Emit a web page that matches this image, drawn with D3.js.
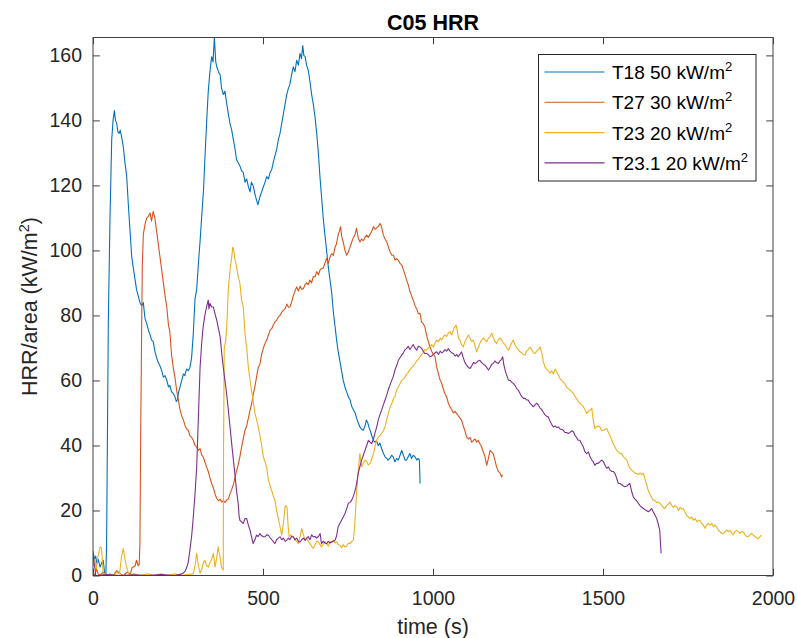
<html>
<head>
<meta charset="utf-8">
<title>C05 HRR</title>
<script src="https://d3js.org/d3.v7.min.js"></script>
<style>
body { margin: 0; background: #fff; }
svg { font-family: "Liberation Sans", Arial, Helvetica, sans-serif; }
.axis text { fill: #262626; font-size: 19.5px; }
.axis line { stroke: #404040; }
</style>
</head>
<body>
<svg width="797" height="638"></svg>
<script>

// series: [time (s), HRR/area (kW/m2)]
var t18 = [[0,7.5],[4,5],[8,6],[11,3.8],[15,5],[21,2.6],[26,4],[30,4.7],[34,1],[38,0.5],[40,10],[43,50],[45,77.6],[50,110],[55,134],[59,140],[63,143],[66,140],[70,139],[73,136.5],[77,136],[80,137],[84,135],[89,132],[94,127],[99,123],[104,114],[109,106],[114,98],[118,95],[123,91.5],[128,88],[133,86],[138,84],[143,83],[148,84],[153,79],[158,77.5],[163,75.5],[168,74],[172,72.5],[177,72],[182,69],[187,67],[192,65.5],[197,64.5],[202,63],[207,61],[212,61.5],[217,60],[222,58],[226,58.5],[231,56.5],[236,56],[241,55],[245,53.5],[248,54],[252,56.5],[256,58],[261,60],[266,62],[270,61.5],[275,63.5],[280,63],[285,64],[290,67],[295,74.5],[300,85],[305,88],[310,96],[315,103],[320,111],[325,118.5],[329,128],[334,139],[339,149],[344,155],[349,159.6],[353,158],[357,165.5],[361,158],[364,156.5],[369,155],[374,154],[378,150],[383,148],[388,149],[392,146],[398,142],[403,139],[408,137],[413,134],[418,131],[422,128],[427,127],[432,126],[437,124.5],[442,124],[447,121],[452,122],[457,119.6],[462,118],[466,121],[471,120],[476,117.5],[481,115.5],[485,114],[491,116.5],[496,118],[501,119.6],[506,121],[511,122.7],[516,122],[521,124],[526,125],[530,127],[535,129],[540,131],[545,134],[550,136],[555,139],[560,142],[565,145],[570,148],[575,150],[579,151],[584,154],[589,156.5],[594,155],[599,158.5],[604,157],[609,160.6],[613,159],[617,163],[620,160],[624,159.6],[628,157],[633,155.5],[638,152],[643,148],[648,145],[653,141],[658,136],[662,131],[668,122],[673,115.5],[677,110],[682,105],[687,100],[692,95],[697,91],[702,87],[707,81],[712,76.5],[717,72],[721,69],[726,66],[731,63],[736,60],[741,58],[746,56.5],[751,55],[756,54],[761,52],[766,51],[771,50],[775,48.5],[780,47],[785,45.7],[790,45],[795,44.7],[800,46],[804,47.8],[808,47],[812,45.5],[815,44.7],[820,43],[825,41.5],[829,41],[834,41.5],[839,40],[844,40.7],[849,39],[854,37.6],[859,36.5],[864,36],[868,35.5],[873,36],[878,37],[883,36.5],[888,35],[893,36],[898,35.5],[903,37],[908,38.5],[913,37],[918,35.5],[922,35.5],[927,36.5],[932,37.5],[937,36],[942,37],[947,36.5],[952,35.5],[956,36],[960,35.5],[962,28.3]];

var t27 = [[0,1],[5,0],[10,2],[15,0.5],[20,0],[30,1],[40,0],[50,0.5],[60,0],[70,1.5],[80,0.5],[90,0],[100,1],[110,0.5],[115,2.5],[119,2.6],[124,3],[128,4.7],[133,3],[136,3.5],[138,10],[140,40],[143,75],[145,95],[148,105],[153,108],[158,110],[163,110.5],[168,111.5],[172,109],[177,112],[182,110],[187,106],[192,102],[197,98],[202,94],[207,90],[212,86],[217,82.6],[222,77],[226,75],[231,68],[236,64],[241,61],[246,57],[251,54],[256,51],[261,49],[266,47.8],[271,46],[276,45],[280,44.7],[285,43],[290,42.5],[295,41.6],[300,40],[305,39.5],[310,38.5],[315,39],[320,37],[324,36.5],[329,35],[334,33.4],[339,32],[344,30],[349,28.3],[354,27],[359,25],[364,23.7],[369,23],[374,23.5],[378,22.6],[383,23],[388,22.5],[393,23.2],[398,23.5],[403,25.2],[408,26.5],[413,28],[418,30.3],[422,32],[427,34],[432,36.5],[437,39.5],[442,42],[447,44.7],[452,46],[457,48.5],[462,50.9],[467,53],[471,55.5],[476,58],[481,61],[486,64],[491,65],[496,68],[501,70],[506,71.4],[511,72.5],[516,74],[521,75.5],[526,76],[530,77],[535,78],[540,78.5],[545,79.5],[550,80],[555,81],[560,81.6],[565,82],[570,83.5],[575,82.5],[579,82.6],[584,84],[589,86],[594,87.5],[599,88.8],[604,87.5],[609,89],[614,88],[619,88.3],[624,89.5],[628,90],[633,89.5],[638,90.9],[643,90],[648,92],[653,91.9],[658,93.5],[663,92.5],[668,94],[672,94.5],[677,94.5],[682,96],[687,97.5],[692,96],[697,98],[702,99],[707,98.5],[712,101],[716,102],[721,104.7],[725,106],[728,107.3],[732,104],[736,102.6],[741,100],[746,98.5],[751,99.5],[756,101],[761,102.6],[766,104],[771,105],[775,106.8],[780,104],[785,102.6],[790,103.5],[795,103],[800,104],[805,104.7],[810,104],[815,105],[820,106],[825,107.3],[830,106.5],[835,107],[840,107.5],[844,108.3],[848,107.5],[854,104.7],[859,103.5],[864,102.6],[869,101],[874,99.5],[879,98.5],[884,98.5],[888,97],[893,97.5],[898,97],[903,96],[908,95.5],[913,94],[918,92.4],[922,91],[927,89.5],[932,87.5],[937,86],[942,84.7],[947,83],[952,82],[957,80.5],[962,80.6],[966,78],[971,77.5],[976,76.5],[981,74],[986,72],[991,70.3],[996,69],[1001,68],[1006,67.3],[1011,64],[1016,62],[1021,60.1],[1026,59],[1030,57.5],[1035,56],[1040,55],[1045,53],[1050,51.9],[1055,51],[1060,50],[1065,50.5],[1070,49.8],[1075,49],[1079,48.5],[1084,47.8],[1089,46],[1094,44.5],[1099,42.6],[1104,42],[1109,42.5],[1114,41],[1119,41.6],[1124,42],[1128,41],[1133,41.6],[1138,40.5],[1143,39.6],[1148,38],[1153,36.5],[1158,33.9],[1163,36],[1168,38.5],[1172,38],[1177,37.5],[1182,35.5],[1187,33.4],[1192,32],[1197,31.5],[1202,30.3],[1204,31]];

var t23 = [[0,3],[5,5],[10,2],[15,6],[21,8.8],[25,8.5],[28,4],[30,0],[35,0.7],[40,0],[50,0.5],[60,0],[70,1],[78,0.5],[84,6],[89,8.3],[94,5],[99,2.6],[104,0.7],[109,0],[120,0.5],[140,0],[160,0.5],[180,0],[200,0.5],[220,0],[240,0.5],[260,0],[280,0.3],[295,0.5],[300,3],[305,6.8],[310,3],[315,0.7],[320,2],[325,4],[329,4.7],[334,3],[339,2.6],[344,4],[349,5],[354,6.8],[359,2.6],[364,5.5],[368,8.8],[373,6],[378,2.6],[383,1.6],[384,40],[386,70],[390,72],[393,75.5],[398,88],[403,94],[408,98],[411,101],[413,100.5],[418,97],[422,95],[427,92],[432,90],[437,84.7],[442,82.6],[447,74.5],[452,70],[457,64],[462,60],[466,57],[471,54],[476,50],[481,48],[486,45.7],[491,43],[496,40],[501,36.5],[506,35],[511,33],[516,29.3],[521,27.5],[526,26],[530,24.5],[535,23.2],[540,20],[545,17.5],[550,15],[555,12.4],[560,16],[565,21.1],[568,21.5],[571,20.6],[574,15],[577,11.9],[582,12.5],[589,11.9],[594,11],[599,10.5],[604,9.8],[609,12],[614,14.5],[619,12.5],[624,10.9],[628,11.5],[633,10.5],[638,9.8],[643,9],[648,8.3],[653,9.5],[658,10.5],[663,10.3],[668,9.5],[672,8.8],[677,9.5],[682,10.5],[687,9.8],[692,9],[697,10.5],[702,10.3],[707,11],[712,10],[717,10.3],[721,9.5],[726,9.3],[731,8.5],[736,9.5],[741,8.8],[746,9],[751,10],[756,9.8],[761,10.5],[766,10.9],[770,16],[775,25.2],[780,32],[785,37.5],[790,33.4],[795,34.5],[800,35.5],[805,35],[810,34],[815,34.5],[820,36],[825,37.5],[829,39.5],[834,41.6],[839,42.5],[844,43],[849,43.7],[854,44.5],[859,45.7],[864,48],[869,50],[874,51.9],[879,53],[884,54.5],[888,55],[893,57],[898,58],[903,59],[908,60],[913,60.5],[918,61],[922,62],[927,62.5],[932,63.2],[937,64],[942,64.5],[947,65.2],[952,66],[957,66.5],[962,67.3],[966,68],[971,68.5],[976,69.5],[981,69.3],[986,70],[991,70.3],[996,71],[1001,70.3],[1006,71.5],[1011,72.4],[1016,71.9],[1021,73],[1026,72.5],[1030,73.4],[1035,74],[1040,73.5],[1045,74.5],[1050,75],[1055,74],[1060,75.5],[1064,76.5],[1068,77],[1072,75],[1075,73],[1079,72.4],[1084,71],[1089,70.3],[1094,72],[1099,73],[1104,74],[1109,73],[1114,72],[1119,72.4],[1124,70.5],[1128,68.8],[1133,70],[1138,71.5],[1143,72.4],[1148,73],[1153,72.5],[1158,71.9],[1163,73],[1168,73.5],[1173,74.5],[1178,73],[1182,72],[1187,71.4],[1192,72.5],[1197,73],[1202,72.4],[1207,71.5],[1212,71],[1217,70],[1222,69.3],[1227,70.5],[1231,71.5],[1236,72.4],[1241,71],[1246,70],[1251,69.5],[1256,68.8],[1261,68.5],[1266,68],[1271,67.8],[1275,69],[1280,69.5],[1285,70.3],[1290,69.5],[1295,68.5],[1300,68.3],[1305,69],[1310,69.5],[1315,70.3],[1320,68.5],[1324,66],[1329,64.2],[1334,63.5],[1339,63],[1344,62.2],[1349,63],[1354,62],[1359,63.5],[1364,62.7],[1369,61.5],[1374,60.5],[1378,60.1],[1383,59.5],[1388,59],[1393,58],[1398,57.5],[1403,57],[1408,56.5],[1413,56],[1418,55],[1422,54.5],[1427,53.5],[1432,53],[1437,52.5],[1442,52],[1447,51],[1452,49.8],[1457,50.5],[1462,50.9],[1467,51.4],[1471,48],[1476,45.2],[1481,45.7],[1486,46],[1491,45.7],[1496,44.5],[1501,44.7],[1506,45],[1511,45.2],[1516,44],[1521,43],[1526,41.6],[1530,40.5],[1535,39.5],[1540,38.5],[1545,38],[1550,37.5],[1555,37.5],[1560,36.5],[1565,36],[1570,35.5],[1575,34],[1579,33],[1584,32.4],[1589,32],[1594,31.5],[1599,31.4],[1604,31],[1609,31.5],[1614,31],[1619,31.4],[1624,29.5],[1628,28],[1633,26.2],[1638,25],[1643,24],[1648,23.2],[1653,23],[1658,22.5],[1663,22.5],[1668,22.2],[1673,21.5],[1677,21],[1682,20.6],[1687,21.5],[1692,22],[1697,22.6],[1702,21.5],[1707,21],[1712,21.5],[1717,21.1],[1722,20],[1727,21],[1731,20.5],[1736,20.6],[1741,19.5],[1746,18.5],[1751,18],[1756,17.5],[1761,18],[1766,17],[1771,17.5],[1776,16.5],[1780,17],[1785,17],[1790,16],[1795,15.5],[1800,14.5],[1805,15.5],[1810,16],[1815,15.5],[1820,16],[1825,15],[1829,15.5],[1834,15],[1839,14],[1844,13.5],[1849,13],[1854,12.9],[1859,13.5],[1864,14],[1869,13.5],[1874,13.9],[1879,13],[1883,12.5],[1888,13.5],[1893,13.9],[1898,13.5],[1903,13],[1908,13.5],[1913,13.4],[1918,12.5],[1922,12],[1927,11.9],[1932,12.5],[1937,13],[1942,12.4],[1947,12],[1952,11.5],[1957,11.4],[1962,12],[1966,12.4]];

var t231 = [[0,6.5],[3,4],[6,2],[8,0],[15,0],[40,0.3],[80,0],[120,0.2],[160,0],[200,0.3],[240,0],[262,0.5],[268,1],[272,1.5],[276,2.6],[280,4],[285,7.8],[290,12],[295,18],[300,25],[305,33.4],[310,48.8],[315,64.2],[320,72],[324,76.5],[329,80],[334,82.6],[337,84],[339,84.7],[341,82],[344,83.7],[349,82.6],[354,82.6],[359,80.5],[364,78.5],[369,76],[374,73.4],[378,69],[383,64.2],[388,60],[393,56],[398,51],[403,45.7],[408,40.5],[413,35.5],[418,30.5],[422,26.2],[427,22.2],[430,18],[432,17],[437,16.5],[442,16],[447,17.5],[452,17.5],[457,15.5],[462,13.9],[466,12],[471,9.8],[476,11],[481,12.4],[486,12],[491,12.9],[496,12.2],[501,11.9],[506,11.9],[511,12.5],[516,12.4],[521,11.6],[526,11],[530,10.5],[535,9.8],[540,11],[545,11.5],[550,11.9],[555,11],[560,11.5],[565,10.5],[570,10.9],[575,11.5],[579,11],[584,12],[589,11.9],[594,11],[599,11.5],[604,10.5],[609,10.3],[614,11],[619,11.5],[624,10.8],[628,11.4],[633,12],[638,11],[643,12.5],[648,11.9],[653,12],[658,11.5],[663,12],[668,12.9],[672,9.8],[677,10.5],[682,10],[687,9.8],[692,10.5],[697,10],[702,10.3],[707,10.5],[712,10.9],[716,12],[721,15],[726,16],[731,17],[736,18],[741,19],[746,20.5],[751,22.2],[756,22.5],[761,23.2],[766,24.5],[771,26.2],[775,28],[780,31.4],[785,33.5],[790,35.5],[795,37],[800,38.5],[805,40],[810,41.6],[815,41],[820,40.6],[825,42],[829,43.7],[834,45.5],[839,47.8],[844,49.5],[849,50.9],[854,52.5],[859,54],[864,55.5],[868,57],[873,58.5],[879,60.1],[884,61.5],[888,63.2],[893,64.5],[898,66.2],[903,67],[908,67.8],[913,68.5],[918,69.5],[922,69.8],[927,70.5],[932,69.5],[937,70.3],[942,71],[947,70],[952,69.3],[957,70.5],[962,70.3],[967,69.8],[971,69],[976,68.3],[981,68.3],[986,68],[991,67.3],[996,67.5],[1001,68],[1006,68.5],[1011,68.8],[1016,68],[1021,69],[1026,68.5],[1030,68.8],[1035,69.5],[1040,69],[1045,69.8],[1050,69],[1055,68.5],[1060,68.3],[1065,67.5],[1070,68],[1074,67.3],[1079,68],[1084,68.8],[1089,67],[1094,65.5],[1099,64.7],[1104,64],[1109,63.7],[1114,64.5],[1119,65.5],[1124,65.2],[1128,65.5],[1133,66],[1138,66.2],[1143,65.5],[1148,65],[1153,64.7],[1158,64],[1163,63.2],[1168,64],[1173,65],[1177,65.2],[1182,66],[1187,65.5],[1192,65.2],[1197,66],[1202,66.5],[1205,67.3],[1208,65],[1212,63.2],[1217,61.5],[1222,60.1],[1227,60],[1231,59.5],[1236,59.1],[1241,58.5],[1246,57.5],[1251,57],[1256,56],[1261,55],[1266,54.5],[1271,54.5],[1275,54],[1280,54],[1285,53],[1290,52.5],[1295,51.9],[1300,52.5],[1305,53],[1310,52.4],[1315,51.5],[1320,51],[1324,50.3],[1329,49.5],[1334,49],[1339,48.8],[1344,47.5],[1349,46.5],[1354,45.7],[1359,46],[1364,45.5],[1369,45.7],[1374,45],[1378,45],[1383,44.7],[1388,44],[1393,44],[1398,43.7],[1403,44],[1408,44.5],[1413,44.2],[1418,43],[1422,42.5],[1427,41.6],[1432,41.6],[1437,40.5],[1442,39.6],[1447,38],[1452,37.5],[1457,38],[1462,36.5],[1467,35.5],[1471,35],[1476,33.9],[1481,34.5],[1486,34.5],[1491,35],[1496,35.5],[1501,35],[1506,33.9],[1511,33],[1516,33.4],[1521,32.4],[1526,32],[1530,32],[1535,31.4],[1540,30],[1545,28.3],[1550,28.3],[1555,28],[1560,27.5],[1565,27.3],[1570,27.5],[1575,28],[1579,28.3],[1584,26],[1589,24.2],[1594,23.5],[1599,23],[1604,22.2],[1609,21.5],[1614,21],[1619,20.6],[1624,20.2],[1628,20],[1633,19.6],[1638,20],[1643,20.6],[1648,19.5],[1653,18.6],[1658,17.5],[1662,16],[1667,13.9],[1669,10],[1671,6.8]];

var seriesNames = ["T18 50 kW/m", "T27 30 kW/m", "T23 20 kW/m", "T23.1 20 kW/m"];
var seriesData = [t18, t27, t23, t231];
var seriesColors = ["#0072BD", "#D95319", "#EDB120", "#7E2F8E"];

var xTicks = [0, 500, 1000, 1500, 2000];
var yTicks = [0, 20, 40, 60, 80, 100, 120, 140, 160];
var xMax = 2000, yMax = 165.5;

var svg = d3.select("svg");
var margin = {left: 93, top: 37.5, right: 24, bottom: 62.5};
var width = 797 - margin.left - margin.right;
var height = 638 - margin.top - margin.bottom;

var x = d3.scaleLinear().domain([0, xMax]).range([0, width]);
var y = d3.scaleLinear().domain([0, yMax]).range([height, 0]);

var g = svg.append("g").attr("transform", "translate(" + margin.left + "," + margin.top + ")");

g.append("clipPath").attr("id", "clip")
  .append("rect").attr("width", width).attr("height", height);

var tick = 6.8;
var fmt = d3.format("d");

// axes: ticks point inwards, box all round
g.append("g").attr("class", "axis")
  .attr("transform", "translate(0," + height + ")")
  .call(d3.axisBottom(x).tickValues(xTicks).tickFormat(fmt).tickSizeInner(-tick).tickSizeOuter(0).tickPadding(15.7));
g.append("g").attr("class", "axis")
  .call(d3.axisLeft(y).tickValues(yTicks).tickFormat(fmt).tickSizeInner(-tick).tickSizeOuter(0).tickPadding(11));
g.append("g").attr("class", "axis")
  .call(d3.axisTop(x).tickValues(xTicks).tickSizeInner(-tick).tickSizeOuter(0).tickFormat(""));
g.append("g").attr("class", "axis")
  .attr("transform", "translate(" + width + ",0)")
  .call(d3.axisRight(y).tickValues(yTicks).tickSizeInner(-tick).tickSizeOuter(0).tickFormat(""));
g.selectAll(".axis .domain").remove();
g.selectAll(".axis text").attr("font-family", null);

var line = d3.line()
  .x(function (d) { return x(d[0]); })
  .y(function (d) { return y(d[1]); });

g.append("g").attr("clip-path", "url(#clip)")
  .selectAll("path.series").data(seriesData)
  .enter().append("path").attr("class", "series")
  .attr("fill", "none")
  .attr("stroke", function (d, i) { return seriesColors[i]; })
  .attr("stroke-width", 1.1)
  .attr("stroke-linejoin", "round")
  .attr("d", line);

g.append("rect")
  .attr("width", width).attr("height", height)
  .attr("fill", "none").attr("stroke", "#404040").attr("stroke-width", 1);

// title + labels
svg.append("text")
  .attr("x", margin.left + width / 2).attr("y", 29.5)
  .attr("text-anchor", "middle").attr("font-weight", "bold").attr("font-size", 21.5)
  .attr("fill", "#000").text("C05 HRR");

svg.append("text")
  .attr("x", margin.left + width / 2).attr("y", 634)
  .attr("text-anchor", "middle").attr("font-size", 21.5)
  .attr("fill", "#262626").text("time (s)");

var yl = svg.append("text")
  .attr("transform", "translate(37," + (margin.top + height / 2) + ") rotate(-90)")
  .attr("text-anchor", "middle").attr("font-size", 21.5).attr("fill", "#262626");
yl.append("tspan").text("HRR/area (kW/m");
yl.append("tspan").attr("dy", -8).attr("font-size", 14.5).text("2");
yl.append("tspan").attr("dy", 8).text(")");

// legend
var legend = svg.append("g").attr("transform", "translate(538.5,54.5)");
legend.append("rect")
  .attr("width", 217.5).attr("height", 126.5)
  .attr("fill", "#fff").attr("stroke", "#262626").attr("stroke-width", 1);

var rows = legend.selectAll("g.row").data(seriesNames)
  .enter().append("g").attr("class", "row")
  .attr("transform", function (d, i) { return "translate(0," + (17.5 + i * 30.3) + ")"; });
rows.append("line")
  .attr("x1", 6).attr("x2", 66)
  .attr("stroke", function (d, i) { return seriesColors[i]; })
  .attr("stroke-width", 1.1);
var lt = rows.append("text")
  .attr("x", 73.5).attr("y", 7).attr("font-size", 19).attr("fill", "#000");
lt.append("tspan").text(function (d) { return d; });
lt.append("tspan").attr("dy", -8).attr("font-size", 13).text("2");

</script>
</body>
</html>
